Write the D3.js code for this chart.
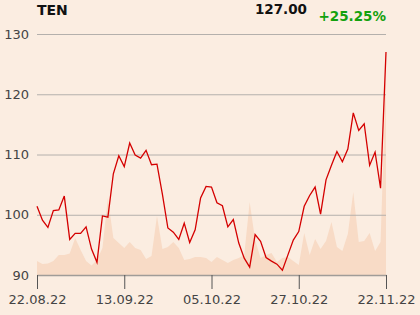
<!DOCTYPE html>
<html><head><meta charset="utf-8">
<script src="https://cdn.jsdelivr.net/npm/d3@7/dist/d3.min.js"></script>
<style>
html,body{margin:0;padding:0;background:#fbede1;}
svg{display:block;font-family:"DejaVu Sans",sans-serif;}
</style></head>
<body><svg id="c" width="420" height="315"></svg>
<script>
const symbol = "TEN";
const lastPrice = "127.00";
const changePct = "+25.25%";
const prices = [101.4,99.1,97.9,100.7,100.8,103.1,95.9,96.9,96.9,98.0,94.3,92.1,99.8,99.6,106.8,109.8,108.0,111.9,109.9,109.4,110.7,108.3,108.4,103.4,97.8,97.1,95.9,98.6,95.4,97.5,102.8,104.7,104.6,102.0,101.5,98.0,99.2,95.3,92.8,91.3,96.7,95.6,92.9,92.3,91.8,90.8,93.3,95.8,97.2,101.4,103.2,104.6,100.1,105.8,108.2,110.5,108.8,110.9,116.9,114.0,115.1,108.2,110.4,104.4,127.0];
const volumes = [14,11,11.5,14,20,20,21.5,37,25,14,9.5,15,27,77,37,32,27,33,27,25,16,19,59,26,28,33,27,15,16,18,18,17,13,18,15,12,15,17,20,73,35,17,20,22,13,17,18,14,10,42,20,36,26,34,53,28,24,41,83,33,34,42,24,33,198];
const tickIdx = [0,16,32,48,64];
const tickLabels = ["22.08.22","13.09.22","05.10.22","27.10.22","22.11.22"];
const yTicks = [90,100,110,120,130];

const svg = d3.select("#c");
const x = d3.scaleLinear().domain([0, prices.length-1]).range([37, 386]);
const y = d3.scaleLinear().domain([90,130]).range([275, 34]);
const v = d3.scaleLinear().domain([0, 200]).range([275, 75]);

// volume area
svg.append("path")
  .datum(volumes)
  .attr("fill", "#f8dbc6")
  .attr("d", d3.area().x((d,i)=>x(i)).y0(v(0)).y1(d=>v(d)));

// gridlines
svg.append("g").selectAll("line").data(yTicks.slice(1)).join("line")
  .attr("x1", 37).attr("x2", 386)
  .attr("y1", d=>y(d)+0.5).attr("y2", d=>y(d)+0.5)
  .attr("stroke", "#b4b0ac").attr("stroke-width", 1);

// y labels
svg.append("g").selectAll("text").data(yTicks).join("text")
  .attr("x", 29).attr("y", d=>y(d)).attr("dy", "0.35em")
  .attr("text-anchor", "end").attr("font-size", 13).attr("fill", "#444")
  .text(d=>d);

// x axis
const xAxis = d3.axisBottom(x).tickValues(tickIdx)
  .tickFormat((d,i)=>tickLabels[i]).tickSize(14).tickSizeOuter(0).tickPadding(6);
const gx = svg.append("g").attr("transform", "translate(0,275)").call(xAxis);
gx.select(".domain").attr("stroke", "#a09c98").attr("stroke-width", 1.5);
gx.selectAll(".tick line").attr("stroke", "#555");
gx.selectAll(".tick text").attr("font-size", 13).attr("fill", "#444")
  .attr("font-family", "DejaVu Sans, sans-serif");

// price line
svg.append("path")
  .datum(prices)
  .attr("fill", "none").attr("stroke", "#d40000").attr("stroke-width", 1.3)
  .attr("stroke-linejoin", "miter")
  .attr("d", d3.line().x((d,i)=>x(i)).y(d=>y(d)));

// header
svg.append("text").attr("x", 37).attr("y", 15).attr("font-size", 14)
  .attr("font-weight", "bold").attr("fill", "#111").text(symbol);
svg.append("text").attr("x", 307).attr("y", 14).attr("font-size", 13.5)
  .attr("text-anchor", "end").attr("font-weight", "bold").attr("fill", "#111").text(lastPrice);
svg.append("text").attr("x", 386).attr("y", 21).attr("font-size", 13.5)
  .attr("text-anchor", "end").attr("font-weight", "bold").attr("fill", "#13a10e").text(changePct);
</script></body></html>
